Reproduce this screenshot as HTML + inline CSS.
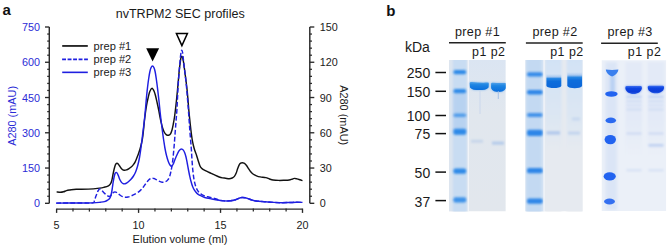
<!DOCTYPE html>
<html><head><meta charset="utf-8">
<style>
html,body{margin:0;padding:0;background:#fff;}
body{width:668px;height:248px;overflow:hidden;}
svg{display:block;font-family:"Liberation Sans",sans-serif;}
</style></head>
<body>
<svg width="668" height="248" viewBox="0 0 668 248">
<rect width="668" height="248" fill="#fff"/>
<path d="M49.3,27 V203.3" stroke="#2a2a2a" stroke-width="1.45" fill="none"/>
<path d="M45,203.30 H49.3" stroke="#2a2a2a" stroke-width="1.35"/>
<path d="M47.2,196.25 H49.3" stroke="#2a2a2a" stroke-width="1.25"/>
<path d="M47.2,189.20 H49.3" stroke="#2a2a2a" stroke-width="1.25"/>
<path d="M47.2,182.14 H49.3" stroke="#2a2a2a" stroke-width="1.25"/>
<path d="M47.2,175.09 H49.3" stroke="#2a2a2a" stroke-width="1.25"/>
<path d="M45,168.04 H49.3" stroke="#2a2a2a" stroke-width="1.35"/>
<path d="M47.2,160.99 H49.3" stroke="#2a2a2a" stroke-width="1.25"/>
<path d="M47.2,153.94 H49.3" stroke="#2a2a2a" stroke-width="1.25"/>
<path d="M47.2,146.88 H49.3" stroke="#2a2a2a" stroke-width="1.25"/>
<path d="M47.2,139.83 H49.3" stroke="#2a2a2a" stroke-width="1.25"/>
<path d="M45,132.78 H49.3" stroke="#2a2a2a" stroke-width="1.35"/>
<path d="M47.2,125.73 H49.3" stroke="#2a2a2a" stroke-width="1.25"/>
<path d="M47.2,118.68 H49.3" stroke="#2a2a2a" stroke-width="1.25"/>
<path d="M47.2,111.62 H49.3" stroke="#2a2a2a" stroke-width="1.25"/>
<path d="M47.2,104.57 H49.3" stroke="#2a2a2a" stroke-width="1.25"/>
<path d="M45,97.52 H49.3" stroke="#2a2a2a" stroke-width="1.35"/>
<path d="M47.2,90.47 H49.3" stroke="#2a2a2a" stroke-width="1.25"/>
<path d="M47.2,83.42 H49.3" stroke="#2a2a2a" stroke-width="1.25"/>
<path d="M47.2,76.36 H49.3" stroke="#2a2a2a" stroke-width="1.25"/>
<path d="M47.2,69.31 H49.3" stroke="#2a2a2a" stroke-width="1.25"/>
<path d="M45,62.26 H49.3" stroke="#2a2a2a" stroke-width="1.35"/>
<path d="M47.2,55.21 H49.3" stroke="#2a2a2a" stroke-width="1.25"/>
<path d="M47.2,48.16 H49.3" stroke="#2a2a2a" stroke-width="1.25"/>
<path d="M47.2,41.10 H49.3" stroke="#2a2a2a" stroke-width="1.25"/>
<path d="M47.2,34.05 H49.3" stroke="#2a2a2a" stroke-width="1.25"/>
<path d="M45,27.00 H49.3" stroke="#2a2a2a" stroke-width="1.35"/>
<path d="M309.8,27 V203.3" stroke="#2a2a2a" stroke-width="1.45" fill="none"/>
<path d="M309.8,203.30 H314.3" stroke="#2a2a2a" stroke-width="1.35"/>
<path d="M309.8,196.25 H312" stroke="#2a2a2a" stroke-width="1.25"/>
<path d="M309.8,189.20 H312" stroke="#2a2a2a" stroke-width="1.25"/>
<path d="M309.8,182.14 H312" stroke="#2a2a2a" stroke-width="1.25"/>
<path d="M309.8,175.09 H312" stroke="#2a2a2a" stroke-width="1.25"/>
<path d="M309.8,168.04 H314.3" stroke="#2a2a2a" stroke-width="1.35"/>
<path d="M309.8,160.99 H312" stroke="#2a2a2a" stroke-width="1.25"/>
<path d="M309.8,153.94 H312" stroke="#2a2a2a" stroke-width="1.25"/>
<path d="M309.8,146.88 H312" stroke="#2a2a2a" stroke-width="1.25"/>
<path d="M309.8,139.83 H312" stroke="#2a2a2a" stroke-width="1.25"/>
<path d="M309.8,132.78 H314.3" stroke="#2a2a2a" stroke-width="1.35"/>
<path d="M309.8,125.73 H312" stroke="#2a2a2a" stroke-width="1.25"/>
<path d="M309.8,118.68 H312" stroke="#2a2a2a" stroke-width="1.25"/>
<path d="M309.8,111.62 H312" stroke="#2a2a2a" stroke-width="1.25"/>
<path d="M309.8,104.57 H312" stroke="#2a2a2a" stroke-width="1.25"/>
<path d="M309.8,97.52 H314.3" stroke="#2a2a2a" stroke-width="1.35"/>
<path d="M309.8,90.47 H312" stroke="#2a2a2a" stroke-width="1.25"/>
<path d="M309.8,83.42 H312" stroke="#2a2a2a" stroke-width="1.25"/>
<path d="M309.8,76.36 H312" stroke="#2a2a2a" stroke-width="1.25"/>
<path d="M309.8,69.31 H312" stroke="#2a2a2a" stroke-width="1.25"/>
<path d="M309.8,62.26 H314.3" stroke="#2a2a2a" stroke-width="1.35"/>
<path d="M309.8,55.21 H312" stroke="#2a2a2a" stroke-width="1.25"/>
<path d="M309.8,48.16 H312" stroke="#2a2a2a" stroke-width="1.25"/>
<path d="M309.8,41.10 H312" stroke="#2a2a2a" stroke-width="1.25"/>
<path d="M309.8,34.05 H312" stroke="#2a2a2a" stroke-width="1.25"/>
<path d="M309.8,27.00 H314.3" stroke="#2a2a2a" stroke-width="1.35"/>
<path d="M56.6,209.1 H302.6" stroke="#2a2a2a" stroke-width="1.45" fill="none"/>
<path d="M56.60,208.6 V212.9" stroke="#2a2a2a" stroke-width="1.35"/>
<path d="M72.99,208.6 V211.6" stroke="#2a2a2a" stroke-width="1.25"/>
<path d="M89.39,208.6 V211.6" stroke="#2a2a2a" stroke-width="1.25"/>
<path d="M105.78,208.6 V211.6" stroke="#2a2a2a" stroke-width="1.25"/>
<path d="M122.17,208.6 V211.6" stroke="#2a2a2a" stroke-width="1.25"/>
<path d="M138.57,208.6 V212.9" stroke="#2a2a2a" stroke-width="1.35"/>
<path d="M154.96,208.6 V211.6" stroke="#2a2a2a" stroke-width="1.25"/>
<path d="M171.35,208.6 V211.6" stroke="#2a2a2a" stroke-width="1.25"/>
<path d="M187.75,208.6 V211.6" stroke="#2a2a2a" stroke-width="1.25"/>
<path d="M204.14,208.6 V211.6" stroke="#2a2a2a" stroke-width="1.25"/>
<path d="M220.53,208.6 V212.9" stroke="#2a2a2a" stroke-width="1.35"/>
<path d="M236.93,208.6 V211.6" stroke="#2a2a2a" stroke-width="1.25"/>
<path d="M253.32,208.6 V211.6" stroke="#2a2a2a" stroke-width="1.25"/>
<path d="M269.71,208.6 V211.6" stroke="#2a2a2a" stroke-width="1.25"/>
<path d="M286.11,208.6 V211.6" stroke="#2a2a2a" stroke-width="1.25"/>
<path d="M302.50,208.6 V212.9" stroke="#2a2a2a" stroke-width="1.35"/>
<text x="40" y="207.40" text-anchor="end" fill="#2b2bd6" font-size="10.8">0</text>
<text x="40" y="172.14" text-anchor="end" fill="#2b2bd6" font-size="10.8">150</text>
<text x="40" y="136.88" text-anchor="end" fill="#2b2bd6" font-size="10.8">300</text>
<text x="40" y="101.62" text-anchor="end" fill="#2b2bd6" font-size="10.8">450</text>
<text x="40" y="66.36" text-anchor="end" fill="#2b2bd6" font-size="10.8">600</text>
<text x="40" y="31.10" text-anchor="end" fill="#2b2bd6" font-size="10.8">750</text>
<text x="319.8" y="207.40" fill="#1a1a1a" font-size="10.8">0</text>
<text x="319.8" y="172.14" fill="#1a1a1a" font-size="10.8">30</text>
<text x="319.8" y="136.88" fill="#1a1a1a" font-size="10.8">60</text>
<text x="319.8" y="101.62" fill="#1a1a1a" font-size="10.8">90</text>
<text x="319.8" y="66.36" fill="#1a1a1a" font-size="10.8">120</text>
<text x="319.8" y="31.10" fill="#1a1a1a" font-size="10.8">150</text>
<text x="56.60" y="228.7" text-anchor="middle" fill="#1a1a1a" font-size="10.8">5</text>
<text x="138.57" y="228.7" text-anchor="middle" fill="#1a1a1a" font-size="10.8">10</text>
<text x="220.53" y="228.7" text-anchor="middle" fill="#1a1a1a" font-size="10.8">15</text>
<text x="302.50" y="228.7" text-anchor="middle" fill="#1a1a1a" font-size="10.8">20</text>
<text x="180" y="243.3" text-anchor="middle" fill="#1a1a1a" font-size="11.1">Elution volume (ml)</text>
<text transform="translate(16.3,115.9) rotate(-90)" text-anchor="middle" fill="#2b2bd6" font-size="10.9">A280 (mAU)</text>
<text transform="translate(339.7,115.2) rotate(90)" text-anchor="middle" fill="#1a1a1a" font-size="10.9">A280 (mAU)</text>
<text x="180.2" y="18.4" text-anchor="middle" fill="#1a1a1a" font-size="12.55">nvTRPM2 SEC profiles</text>
<text x="2.6" y="14.8" fill="#111" font-size="15" font-weight="bold">a</text>
<path d="M62.2,45.95 H87.8" stroke="#0a0a0a" stroke-width="1.65"/>
<path d="M62.1,59.35 H87.9" stroke="#1f1fe0" stroke-width="1.65" stroke-dasharray="3.9 1.6"/>
<path d="M62.2,72.35 H87.8" stroke="#1f1fe0" stroke-width="1.6"/>
<text x="93.6" y="49.8" fill="#1a1a1a" font-size="11.1">prep #1</text>
<text x="93.6" y="62.8" fill="#1a1a1a" font-size="11.1">prep #2</text>
<text x="93.6" y="75.8" fill="#1a1a1a" font-size="11.1">prep #3</text>
<path d="M146.2,48.2 L159.1,48.2 L152.6,61.6 Z" fill="#000"/>
<path d="M176.4,33.6 L187.4,33.6 L181.9,45.6 Z" fill="none" stroke="#000" stroke-width="1.5" stroke-linejoin="miter"/>
<path d="M56.60,191.90 C57.25,191.97 59.35,192.32 60.50,192.30 C61.65,192.28 62.50,192.08 63.50,191.80 C64.50,191.52 65.42,190.90 66.50,190.60 C67.58,190.30 68.38,190.22 70.00,190.00 C71.62,189.78 73.15,189.45 76.20,189.30 C79.25,189.15 84.42,189.30 88.30,189.10 C92.18,188.90 96.88,188.40 99.50,188.10 C102.12,187.80 102.52,187.68 104.00,187.30 C105.48,186.92 107.30,186.42 108.40,185.80 C109.50,185.18 110.03,184.48 110.60,183.60 C111.17,182.72 111.45,181.77 111.80,180.50 C112.15,179.23 112.40,177.50 112.70,176.00 C113.00,174.50 113.30,172.88 113.60,171.50 C113.90,170.12 114.17,168.88 114.50,167.70 C114.83,166.52 115.20,165.15 115.60,164.40 C116.00,163.65 116.47,163.27 116.90,163.20 C117.33,163.13 117.75,163.53 118.20,164.00 C118.65,164.47 119.00,165.17 119.60,166.00 C120.20,166.83 121.07,168.30 121.80,169.00 C122.53,169.70 123.22,170.05 124.00,170.20 C124.78,170.35 125.67,170.17 126.50,169.90 C127.33,169.63 128.17,169.12 129.00,168.60 C129.83,168.08 130.77,167.47 131.50,166.80 C132.23,166.13 132.78,165.43 133.40,164.60 C134.02,163.77 134.67,162.80 135.20,161.80 C135.73,160.80 136.10,159.82 136.60,158.60 C137.10,157.38 137.67,155.97 138.20,154.50 C138.73,153.03 139.30,151.47 139.80,149.80 C140.30,148.13 140.77,146.30 141.20,144.50 C141.63,142.70 142.03,141.25 142.40,139.00 C142.77,136.75 143.08,133.83 143.40,131.00 C143.72,128.17 143.97,125.00 144.30,122.00 C144.63,119.00 145.02,115.83 145.40,113.00 C145.78,110.17 146.13,107.58 146.60,105.00 C147.07,102.42 147.67,99.75 148.20,97.50 C148.73,95.25 149.17,93.03 149.80,91.50 C150.43,89.97 151.27,88.30 152.00,88.30 C152.73,88.30 153.58,90.13 154.20,91.50 C154.82,92.87 155.20,94.58 155.70,96.50 C156.20,98.42 156.70,100.75 157.20,103.00 C157.70,105.25 158.23,107.67 158.70,110.00 C159.17,112.33 159.57,114.83 160.00,117.00 C160.43,119.17 160.87,121.17 161.30,123.00 C161.73,124.83 162.12,126.50 162.60,128.00 C163.08,129.50 163.60,130.90 164.20,132.00 C164.80,133.10 165.48,134.05 166.20,134.60 C166.92,135.15 167.78,135.43 168.50,135.30 C169.22,135.17 169.92,134.68 170.50,133.80 C171.08,132.92 171.53,131.63 172.00,130.00 C172.47,128.37 172.88,126.17 173.30,124.00 C173.72,121.83 174.15,119.33 174.50,117.00 C174.85,114.67 175.07,112.83 175.40,110.00 C175.73,107.17 176.15,103.33 176.50,100.00 C176.85,96.67 177.18,93.33 177.50,90.00 C177.82,86.67 178.10,83.33 178.40,80.00 C178.70,76.67 178.98,73.00 179.30,70.00 C179.62,67.00 180.02,64.08 180.30,62.00 C180.58,59.92 180.75,58.47 181.00,57.50 C181.25,56.53 181.53,56.20 181.80,56.20 C182.07,56.20 182.32,56.53 182.60,57.50 C182.88,58.47 183.17,59.92 183.50,62.00 C183.83,64.08 184.20,67.00 184.60,70.00 C185.00,73.00 185.48,76.67 185.90,80.00 C186.32,83.33 186.75,86.67 187.10,90.00 C187.45,93.33 187.72,96.67 188.00,100.00 C188.28,103.33 188.50,106.67 188.80,110.00 C189.10,113.33 189.45,116.67 189.80,120.00 C190.15,123.33 190.52,126.83 190.90,130.00 C191.28,133.17 191.68,136.42 192.10,139.00 C192.52,141.58 192.95,143.58 193.40,145.50 C193.85,147.42 194.27,148.83 194.80,150.50 C195.33,152.17 196.02,153.75 196.60,155.50 C197.18,157.25 197.75,159.30 198.30,161.00 C198.85,162.70 199.35,164.50 199.90,165.70 C200.45,166.90 201.00,167.55 201.60,168.20 C202.20,168.85 202.60,169.07 203.50,169.60 C204.40,170.13 205.73,170.78 207.00,171.40 C208.27,172.02 209.77,172.67 211.10,173.30 C212.43,173.93 213.65,174.58 215.00,175.20 C216.35,175.82 217.95,176.55 219.20,177.00 C220.45,177.45 221.45,177.70 222.50,177.90 C223.55,178.10 224.38,178.07 225.50,178.20 C226.62,178.33 228.08,178.73 229.20,178.70 C230.32,178.67 231.33,178.38 232.20,178.00 C233.07,177.62 233.73,177.23 234.40,176.40 C235.07,175.57 235.67,174.27 236.20,173.00 C236.73,171.73 237.10,170.17 237.60,168.80 C238.10,167.43 238.68,165.75 239.20,164.80 C239.72,163.85 240.18,163.45 240.70,163.10 C241.22,162.75 241.75,162.68 242.30,162.70 C242.85,162.72 243.33,162.78 244.00,163.20 C244.67,163.62 245.55,164.30 246.30,165.20 C247.05,166.10 247.80,167.55 248.50,168.60 C249.20,169.65 249.75,170.60 250.50,171.50 C251.25,172.40 252.00,173.28 253.00,174.00 C254.00,174.72 255.30,175.32 256.50,175.80 C257.70,176.28 258.65,176.60 260.20,176.90 C261.75,177.20 264.25,177.25 265.80,177.60 C267.35,177.95 268.28,178.60 269.50,179.00 C270.72,179.40 271.57,179.77 273.10,180.00 C274.63,180.23 276.88,180.35 278.70,180.40 C280.52,180.45 282.25,180.37 284.00,180.30 C285.75,180.23 287.87,180.18 289.20,180.00 C290.53,179.82 291.15,179.47 292.00,179.20 C292.85,178.93 293.47,178.45 294.30,178.40 C295.13,178.35 296.05,178.67 297.00,178.90 C297.95,179.13 299.08,179.52 300.00,179.80 C300.92,180.08 302.08,180.47 302.50,180.60" fill="none" stroke="#121212" stroke-width="1.45" stroke-linejoin="round"/>
<path d="M56.20,203.10 C60.17,203.08 73.90,203.03 80.00,203.00 C86.10,202.97 90.38,203.40 92.80,202.90 C95.22,202.40 93.97,201.15 94.50,200.00 C95.03,198.85 95.48,197.37 96.00,196.00 C96.52,194.63 97.13,192.85 97.60,191.80 C98.07,190.75 98.45,190.18 98.80,189.70 C99.15,189.22 99.38,188.97 99.70,188.90 C100.02,188.83 100.32,189.00 100.70,189.30 C101.08,189.60 101.52,190.18 102.00,190.70 C102.48,191.22 103.02,191.80 103.60,192.40 C104.18,193.00 104.83,193.72 105.50,194.30 C106.17,194.88 106.97,195.55 107.60,195.90 C108.23,196.25 108.77,196.47 109.30,196.40 C109.83,196.33 110.30,195.98 110.80,195.50 C111.30,195.02 111.77,194.05 112.30,193.50 C112.83,192.95 113.42,192.43 114.00,192.20 C114.58,191.97 115.22,192.00 115.80,192.10 C116.38,192.20 116.82,192.32 117.50,192.80 C118.18,193.28 119.07,194.37 119.90,195.00 C120.73,195.63 121.65,196.23 122.50,196.60 C123.35,196.97 124.08,197.13 125.00,197.20 C125.92,197.27 127.00,197.20 128.00,197.00 C129.00,196.80 129.93,196.45 131.00,196.00 C132.07,195.55 133.12,195.00 134.40,194.30 C135.68,193.60 137.43,192.72 138.70,191.80 C139.97,190.88 141.03,189.87 142.00,188.80 C142.97,187.73 143.62,186.60 144.50,185.40 C145.38,184.20 146.45,182.65 147.30,181.60 C148.15,180.55 148.85,179.68 149.60,179.10 C150.35,178.52 151.07,178.20 151.80,178.10 C152.53,178.00 153.25,178.25 154.00,178.50 C154.75,178.75 155.47,179.15 156.30,179.60 C157.13,180.05 158.03,180.77 159.00,181.20 C159.97,181.63 161.05,182.10 162.10,182.20 C163.15,182.30 164.35,182.18 165.30,181.80 C166.25,181.42 167.08,180.78 167.80,179.90 C168.52,179.02 169.10,177.82 169.60,176.50 C170.10,175.18 170.43,173.58 170.80,172.00 C171.17,170.42 171.47,169.00 171.80,167.00 C172.13,165.00 172.50,162.50 172.80,160.00 C173.10,157.50 173.35,154.67 173.60,152.00 C173.85,149.33 174.08,146.67 174.30,144.00 C174.52,141.33 174.70,138.67 174.90,136.00 C175.10,133.33 175.28,130.83 175.50,128.00 C175.72,125.17 175.97,122.00 176.20,119.00 C176.43,116.00 176.70,113.17 176.90,110.00 C177.10,106.83 177.23,103.33 177.40,100.00 C177.57,96.67 177.72,93.33 177.90,90.00 C178.08,86.67 178.27,83.33 178.50,80.00 C178.73,76.67 179.02,73.40 179.30,70.00 C179.58,66.60 179.92,62.50 180.20,59.60 C180.48,56.70 180.73,54.18 181.00,52.60 C181.27,51.02 181.53,50.10 181.80,50.10 C182.07,50.10 182.33,51.02 182.60,52.60 C182.87,54.18 183.07,56.70 183.40,59.60 C183.73,62.50 184.20,66.60 184.60,70.00 C185.00,73.40 185.43,76.67 185.80,80.00 C186.17,83.33 186.50,86.67 186.80,90.00 C187.10,93.33 187.33,96.67 187.60,100.00 C187.87,103.33 188.15,106.67 188.40,110.00 C188.65,113.33 188.87,116.67 189.10,120.00 C189.33,123.33 189.55,126.67 189.80,130.00 C190.05,133.33 190.33,136.67 190.60,140.00 C190.87,143.33 191.17,146.67 191.40,150.00 C191.63,153.33 191.77,156.67 192.00,160.00 C192.23,163.33 192.45,166.67 192.80,170.00 C193.15,173.33 193.58,177.17 194.10,180.00 C194.62,182.83 195.22,185.10 195.90,187.00 C196.58,188.90 197.38,190.25 198.20,191.40 C199.02,192.55 199.72,193.13 200.80,193.90 C201.88,194.67 203.25,195.45 204.70,196.00 C206.15,196.55 207.73,196.75 209.50,197.20 C211.27,197.65 213.55,198.18 215.30,198.70 C217.05,199.22 218.55,199.93 220.00,200.30 C221.45,200.67 222.23,200.82 224.00,200.90 C225.77,200.98 228.68,200.98 230.60,200.80 C232.52,200.62 234.10,200.23 235.50,199.80 C236.90,199.37 237.92,198.58 239.00,198.20 C240.08,197.82 241.00,197.58 242.00,197.50 C243.00,197.42 243.98,197.52 245.00,197.70 C246.02,197.88 246.93,198.22 248.10,198.60 C249.27,198.98 250.67,199.60 252.00,200.00 C253.33,200.40 254.07,200.72 256.10,201.00 C258.13,201.28 261.23,201.47 264.20,201.70 C267.17,201.93 270.95,202.23 273.90,202.40 C276.85,202.57 279.22,202.68 281.90,202.70 C284.58,202.72 287.65,202.57 290.00,202.50 C292.35,202.43 293.92,202.32 296.00,202.30 C298.08,202.28 301.42,202.38 302.50,202.40" fill="none" stroke="#1f1fe0" stroke-width="1.45" stroke-dasharray="4.8 2.2"/>
<path d="M56.20,203.10 C60.17,203.08 73.82,203.03 80.00,203.00 C86.18,202.97 89.88,203.03 93.30,202.90 C96.72,202.77 98.65,202.42 100.50,202.20 C102.35,201.98 103.32,201.88 104.40,201.60 C105.48,201.32 106.17,200.97 107.00,200.50 C107.83,200.03 108.77,199.55 109.40,198.80 C110.03,198.05 110.42,197.13 110.80,196.00 C111.18,194.87 111.43,193.42 111.70,192.00 C111.97,190.58 112.15,189.17 112.40,187.50 C112.65,185.83 112.92,183.75 113.20,182.00 C113.48,180.25 113.80,178.40 114.10,177.00 C114.40,175.60 114.67,174.37 115.00,173.60 C115.33,172.83 115.72,172.43 116.10,172.40 C116.48,172.37 116.90,172.80 117.30,173.40 C117.70,174.00 118.08,174.98 118.50,176.00 C118.92,177.02 119.30,178.43 119.80,179.50 C120.30,180.57 120.90,181.68 121.50,182.40 C122.10,183.12 122.68,183.62 123.40,183.80 C124.12,183.98 124.97,183.83 125.80,183.50 C126.63,183.17 127.53,182.50 128.40,181.80 C129.27,181.10 130.15,180.27 131.00,179.30 C131.85,178.33 132.73,177.22 133.50,176.00 C134.27,174.78 134.97,173.50 135.60,172.00 C136.23,170.50 136.80,168.67 137.30,167.00 C137.80,165.33 138.22,163.67 138.60,162.00 C138.98,160.33 139.30,158.67 139.60,157.00 C139.90,155.33 140.13,153.83 140.40,152.00 C140.67,150.17 140.93,148.00 141.20,146.00 C141.47,144.00 141.73,142.17 142.00,140.00 C142.27,137.83 142.52,135.33 142.80,133.00 C143.08,130.67 143.42,128.33 143.70,126.00 C143.98,123.67 144.25,121.33 144.50,119.00 C144.75,116.67 144.97,114.50 145.20,112.00 C145.43,109.50 145.67,106.67 145.90,104.00 C146.13,101.33 146.30,99.00 146.60,96.00 C146.90,93.00 147.35,88.92 147.70,86.00 C148.05,83.08 148.35,80.83 148.70,78.50 C149.05,76.17 149.42,73.78 149.80,72.00 C150.18,70.22 150.55,68.80 151.00,67.80 C151.45,66.80 152.00,66.00 152.50,66.00 C153.00,66.00 153.55,66.80 154.00,67.80 C154.45,68.80 154.82,70.13 155.20,72.00 C155.58,73.87 155.95,76.58 156.30,79.00 C156.65,81.42 156.97,83.83 157.30,86.50 C157.63,89.17 157.98,92.25 158.30,95.00 C158.62,97.75 158.90,100.17 159.20,103.00 C159.50,105.83 159.80,109.17 160.10,112.00 C160.40,114.83 160.70,117.50 161.00,120.00 C161.30,122.50 161.60,124.67 161.90,127.00 C162.20,129.33 162.48,131.67 162.80,134.00 C163.12,136.33 163.43,138.58 163.80,141.00 C164.17,143.42 164.55,146.08 165.00,148.50 C165.45,150.92 165.95,153.33 166.50,155.50 C167.05,157.67 167.72,159.92 168.30,161.50 C168.88,163.08 169.45,164.22 170.00,165.00 C170.55,165.78 171.10,166.28 171.60,166.20 C172.10,166.12 172.47,165.53 173.00,164.50 C173.53,163.47 174.15,161.58 174.80,160.00 C175.45,158.42 176.23,156.47 176.90,155.00 C177.57,153.53 178.23,152.12 178.80,151.20 C179.37,150.28 179.82,149.85 180.30,149.50 C180.78,149.15 181.23,149.03 181.70,149.10 C182.17,149.17 182.62,149.33 183.10,149.90 C183.58,150.47 184.12,151.32 184.60,152.50 C185.08,153.68 185.55,155.17 186.00,157.00 C186.45,158.83 186.88,161.33 187.30,163.50 C187.72,165.67 188.12,168.00 188.50,170.00 C188.88,172.00 189.20,173.67 189.60,175.50 C190.00,177.33 190.40,179.17 190.90,181.00 C191.40,182.83 191.98,184.93 192.60,186.50 C193.22,188.07 193.87,189.25 194.60,190.40 C195.33,191.55 196.13,192.58 197.00,193.40 C197.87,194.22 198.52,194.62 199.80,195.30 C201.08,195.98 202.68,196.88 204.70,197.50 C206.72,198.12 209.48,198.53 211.90,199.00 C214.32,199.47 217.18,199.98 219.20,200.30 C221.22,200.62 222.10,200.82 224.00,200.90 C225.90,200.98 228.68,200.98 230.60,200.80 C232.52,200.62 234.10,200.23 235.50,199.80 C236.90,199.37 237.92,198.58 239.00,198.20 C240.08,197.82 241.00,197.58 242.00,197.50 C243.00,197.42 243.98,197.52 245.00,197.70 C246.02,197.88 246.93,198.22 248.10,198.60 C249.27,198.98 250.67,199.60 252.00,200.00 C253.33,200.40 254.07,200.72 256.10,201.00 C258.13,201.28 261.23,201.47 264.20,201.70 C267.17,201.93 270.95,202.23 273.90,202.40 C276.85,202.57 279.22,202.68 281.90,202.70 C284.58,202.72 287.65,202.57 290.00,202.50 C292.35,202.43 293.92,202.32 296.00,202.30 C298.08,202.28 301.42,202.38 302.50,202.40" fill="none" stroke="#1f1fe0" stroke-width="1.45" stroke-linejoin="round"/>
<defs><filter id="b05" x="-50%" y="-100%" width="200%" height="300%"><feGaussianBlur stdDeviation="0.5"/></filter><filter id="b07" x="-50%" y="-100%" width="200%" height="300%"><feGaussianBlur stdDeviation="0.7"/></filter><filter id="b1" x="-50%" y="-200%" width="200%" height="500%"><feGaussianBlur stdDeviation="1.0"/></filter><filter id="b2" x="-50%" y="-50%" width="200%" height="200%"><feGaussianBlur stdDeviation="1.6"/></filter><clipPath id="g1"><rect x="449" y="60" width="56.8" height="151.5"/></clipPath><clipPath id="g2"><rect x="525.3" y="60" width="57.4" height="151.4"/></clipPath><clipPath id="g3"><rect x="601.5" y="60.2" width="64.8" height="150.8"/></clipPath></defs>
<text x="386.3" y="15.9" fill="#111" font-size="15" font-weight="bold">b</text>
<text x="405" y="51.7" fill="#1a1a1a" font-size="14">kDa</text>
<text x="430.2" y="77.5" text-anchor="end" fill="#1a1a1a" font-size="14">250</text>
<path d="M435.4,72.5 H446" stroke="#111" stroke-width="1.5"/>
<text x="430.2" y="96.6" text-anchor="end" fill="#1a1a1a" font-size="14">150</text>
<path d="M435.4,91.3 H446" stroke="#111" stroke-width="1.5"/>
<text x="430.2" y="120.5" text-anchor="end" fill="#1a1a1a" font-size="14">100</text>
<path d="M435.4,115.5 H446" stroke="#111" stroke-width="1.5"/>
<text x="430.2" y="138.9" text-anchor="end" fill="#1a1a1a" font-size="14">75</text>
<path d="M435.4,133.6 H446" stroke="#111" stroke-width="1.5"/>
<text x="430.2" y="177.9" text-anchor="end" fill="#1a1a1a" font-size="14">50</text>
<path d="M435.4,172.1 H446" stroke="#111" stroke-width="1.5"/>
<text x="430.2" y="206.5" text-anchor="end" fill="#1a1a1a" font-size="14">37</text>
<path d="M435.4,200.6 H446" stroke="#111" stroke-width="1.5"/>
<text x="477.5" y="35.8" text-anchor="middle" fill="#1a1a1a" font-size="12.6" letter-spacing="0.35">prep #1</text>
<path d="M449,42.8 H505.8" stroke="#222" stroke-width="1.4"/>
<text x="555.0" y="35.8" text-anchor="middle" fill="#1a1a1a" font-size="12.6" letter-spacing="0.35">prep #2</text>
<path d="M525.9,43.0 H582.7" stroke="#222" stroke-width="1.4"/>
<text x="630.1" y="35.8" text-anchor="middle" fill="#1a1a1a" font-size="12.6" letter-spacing="0.35">prep #3</text>
<path d="M601.1,43.2 H657.8" stroke="#222" stroke-width="1.4"/>
<text x="505.5" y="55.9" text-anchor="end" fill="#1a1a1a" font-size="12.4" letter-spacing="0.5">p1 p2</text>
<text x="583.7" y="55.9" text-anchor="end" fill="#1a1a1a" font-size="12.4" letter-spacing="0.5">p1 p2</text>
<text x="661.3" y="55.9" text-anchor="end" fill="#1a1a1a" font-size="12.4" letter-spacing="0.5">p1 p2</text>
<g clip-path="url(#g1)">
<linearGradient id="lg1" x1="0" y1="0" x2="0" y2="1"><stop offset="0" stop-color="#dbe5f2"/><stop offset="0.35" stop-color="#e1e7ee"/><stop offset="1" stop-color="#e2e7ed"/></linearGradient>
<rect x="449" y="60" width="56.8" height="151.5" fill="url(#lg1)"/>
<rect x="449" y="60" width="19" height="151.5" fill="#dde5ef"/>
<rect x="452.8" y="58" width="14" height="156" fill="#c8dcf2" filter="url(#b1)"/>
<rect x="453.5" y="92" width="13" height="42" fill="#b0cef0" filter="url(#b2)" opacity="0.7"/>
<rect x="453.4" y="70.1" width="12.8" height="4.2" rx="2" fill="#2f8ae8" opacity="1.0" filter="url(#b1)"/>
<rect x="453.4" y="88.9" width="12.8" height="4.4" rx="2" fill="#2f8ae8" opacity="1.0" filter="url(#b1)"/>
<rect x="453.4" y="113.5" width="12.8" height="3.6" rx="2" fill="#2f8ae8" opacity="0.75" filter="url(#b1)"/>
<rect x="453.4" y="128.7" width="12.8" height="6.0" rx="2" fill="#2f8ae8" opacity="1.0" filter="url(#b1)"/>
<rect x="453.4" y="168.6" width="12.8" height="5.2" rx="2" fill="#2f8ae8" opacity="1.0" filter="url(#b1)"/>
<rect x="453.4" y="197.2" width="12.8" height="5.2" rx="2" fill="#2f8ae8" opacity="0.9" filter="url(#b1)"/>
<rect x="467.7" y="60" width="1.2" height="151.5" fill="#f3f5f9" filter="url(#b05)"/>
<linearGradient id="bg1" x1="0" y1="0" x2="0" y2="1"><stop offset="0" stop-color="#52a2ea"/><stop offset="0.35" stop-color="#1c84e2"/><stop offset="1" stop-color="#0a6ddc"/></linearGradient>
<path d="M469.7,83.0 C469.8,82.1 470.8,81.9 472,82.0 C477,82.6 482,82.8 487.5,82.6 C488.5,82.6 488.9,83.0 488.8,83.8 L488.6,87.4 C487,89.6 483.5,90.1 479.3,90.1 C475,90.1 471.5,89.6 470,87.4 Z" fill="#5aa2ea" filter="url(#b1)" opacity="0.7"/>
<path d="M469.7,83.0 C469.8,82.1 470.8,81.9 472,82.0 C477,82.6 482,82.8 487.5,82.6 C488.5,82.6 488.9,83.0 488.8,83.8 L488.6,87.4 C487,89.6 483.5,90.1 479.3,90.1 C475,90.1 471.5,89.6 470,87.4 Z" fill="url(#bg1)" filter="url(#b05)"/>
<path d="M491.1,83.6 C491.2,82.8 492,82.6 493,82.7 C497,83.2 501,83.2 505,83.0 C505.8,83 505.9,83.4 505.9,84 L505.9,88.2 C504.5,91 501.5,91.9 498.4,91.9 C495.3,91.9 492.3,91 491.1,88.2 Z" fill="#5aa2ea" filter="url(#b1)" opacity="0.7"/>
<path d="M491.1,83.6 C491.2,82.8 492,82.6 493,82.7 C497,83.2 501,83.2 505,83.0 C505.8,83 505.9,83.4 505.9,84 L505.9,88.2 C504.5,91 501.5,91.9 498.4,91.9 C495.3,91.9 492.3,91 491.1,88.2 Z" fill="url(#bg1)" filter="url(#b05)"/>
<rect x="479.6" y="90" width="0.8" height="24" fill="#c5d4ea" filter="url(#b05)"/>
<rect x="497.8" y="91" width="0.9" height="8" fill="#9fbbe6" filter="url(#b05)"/>
<rect x="471" y="139.8" width="12" height="2.8" fill="#c6d5ea" filter="url(#b1)"/>
<rect x="492" y="141.6" width="12" height="3.0" fill="#b4caea" filter="url(#b1)"/>
</g>
<linearGradient id="lg2" x1="0" y1="0" x2="0" y2="1"><stop offset="0" stop-color="#d2e2f5"/><stop offset="0.35" stop-color="#dbe6f3"/><stop offset="0.6" stop-color="#e6eaf0"/><stop offset="1" stop-color="#e6eaf0"/></linearGradient>
<g clip-path="url(#g2)">
<rect x="525.3" y="60" width="57.4" height="151.5" fill="#e6eaf0"/>
<rect x="525.3" y="60" width="18.4" height="151.5" fill="#d4e3f3"/>
<rect x="526.5" y="58" width="15" height="156" fill="#c3d9f2" filter="url(#b1)"/>
<rect x="545.2" y="58" width="16.4" height="156" fill="url(#lg2)" filter="url(#b1)"/>
<rect x="566.7" y="58" width="16.4" height="156" fill="url(#lg2)" filter="url(#b1)"/>
<rect x="527" y="72.2" width="15.8" height="4.4" rx="2" fill="#2f86e8" opacity="0.95" filter="url(#b1)"/>
<rect x="527" y="90.1" width="15.8" height="4.4" rx="2" fill="#2f86e8" opacity="1.0" filter="url(#b1)"/>
<rect x="527" y="113.0" width="15.8" height="4.0" rx="2" fill="#2f86e8" opacity="0.85" filter="url(#b1)"/>
<rect x="527" y="129.8" width="15.8" height="6.2" rx="2" fill="#2f86e8" opacity="1.0" filter="url(#b1)"/>
<rect x="527" y="167.9" width="15.8" height="5.4" rx="2" fill="#2f86e8" opacity="1.0" filter="url(#b1)"/>
<rect x="527" y="198.6" width="15.8" height="5.2" rx="2" fill="#2f86e8" opacity="1.0" filter="url(#b1)"/>
<rect x="543.4" y="60" width="1.3" height="151.5" fill="#f2f5fa" filter="url(#b05)"/>
<linearGradient id="bg2" x1="0" y1="0" x2="0" y2="1"><stop offset="0" stop-color="#9cc2ee" stop-opacity="0"/><stop offset="0.18" stop-color="#8ab6ec" stop-opacity="0.55"/><stop offset="0.32" stop-color="#2a88e4"/><stop offset="0.5" stop-color="#0c6edc"/><stop offset="1" stop-color="#0a66d8"/></linearGradient>
<path d="M546.4,74 L561.3,74 L561.3,86.0 C560,88.7 548,88.7 546.4,86.0 Z" fill="url(#bg2)" filter="url(#b07)"/>
<path d="M567.3,72 L582.1,72 L582.1,86.0 C580.5,88.9 569,88.9 567.3,86.0 Z" fill="url(#bg2)" filter="url(#b07)"/>
<rect x="546.5" y="131.2" width="13.5" height="3.4" fill="#b2c9ec" filter="url(#b1)"/>
<rect x="568" y="131.6" width="12" height="3.0" fill="#c2d4ee" filter="url(#b1)"/>
<rect x="572" y="117.5" width="8" height="3.0" fill="#c8d8f0" filter="url(#b1)"/>
</g>
<g clip-path="url(#g3)">
<rect x="601.5" y="60" width="64.8" height="151.2" fill="#ebf0f8"/>
<linearGradient id="lg3" x1="0" y1="0" x2="0" y2="1"><stop offset="0" stop-color="#e3eaf7"/><stop offset="0.6" stop-color="#e3eaf7"/><stop offset="1" stop-color="#ebf0f8"/></linearGradient>
<rect x="625.5" y="62" width="16.5" height="95" fill="url(#lg3)" filter="url(#b1)"/>
<rect x="647.8" y="62" width="16.5" height="95" fill="url(#lg3)" filter="url(#b1)"/>
<rect x="605.5" y="62" width="11.5" height="148" fill="#dbe5f6" filter="url(#b2)"/>
<rect x="610.3" y="72" width="4.4" height="22" fill="#b9d0f3" filter="url(#b1)"/>
<path d="M605.8,69.6 C610,70.2 614,70.2 618.4,69.6 C618,73 615,75.6 612.1,76.6 C609.2,75.6 606.2,73 605.8,69.6 Z" fill="#3a80ee" filter="url(#b05)"/>
<ellipse cx="611.4" cy="94.0" rx="6.2" ry="2.7" fill="#2163f0" opacity="1.0" filter="url(#b05)"/>
<ellipse cx="610.8" cy="120.4" rx="5.3" ry="2.8" fill="#2163f0" opacity="0.95" filter="url(#b05)"/>
<ellipse cx="610.3" cy="139.6" rx="5.7" ry="4.7" fill="#2163f0" opacity="1.0" filter="url(#b05)"/>
<ellipse cx="609.7" cy="176.4" rx="6.1" ry="4.1" fill="#2163f0" opacity="1.0" filter="url(#b05)"/>
<ellipse cx="609.5" cy="201.5" rx="5.5" ry="2.9" fill="#2163f0" opacity="0.9" filter="url(#b05)"/>
<linearGradient id="bg3" x1="0" y1="0" x2="0" y2="1"><stop offset="0" stop-color="#3f6ff0"/><stop offset="0.3" stop-color="#0f45e2"/><stop offset="0.75" stop-color="#0b3cd8"/><stop offset="1" stop-color="#2a5ce6"/></linearGradient>
<path d="M625.4,87.0 C625.5,86.1 626.3,85.9 627.5,85.9 L639.6,85.9 C640.9,85.9 641.7,86.1 641.8,87.0 L641.8,88.2 C641.6,91.6 637.5,94.0 633.5,94.0 C629.5,94.0 625.6,91.6 625.4,88.2 Z" fill="#4a78ec" filter="url(#b1)" opacity="0.7"/>
<path d="M625.4,87.0 C625.5,86.1 626.3,85.9 627.5,85.9 L639.6,85.9 C640.9,85.9 641.7,86.1 641.8,87.0 L641.8,88.2 C641.6,91.6 637.5,94.0 633.5,94.0 C629.5,94.0 625.6,91.6 625.4,88.2 Z" fill="url(#bg3)" filter="url(#b05)"/>
<path d="M647.8,86.8 C647.9,85.9 648.7,85.7 649.9,85.7 L661.9,85.7 C663.2,85.7 663.9,85.9 664,86.8 L664,87.9 C663.8,91.0 660,93.2 655.9,93.2 C651.8,93.2 648,91.0 647.8,87.9 Z" fill="#4a78ec" filter="url(#b1)" opacity="0.7"/>
<path d="M647.8,86.8 C647.9,85.9 648.7,85.7 649.9,85.7 L661.9,85.7 C663.2,85.7 663.9,85.9 664,86.8 L664,87.9 C663.8,91.0 660,93.2 655.9,93.2 C651.8,93.2 648,91.0 647.8,87.9 Z" fill="url(#bg3)" filter="url(#b05)"/>
<rect x="626.5" y="95.6" width="15" height="2.4" fill="#c4d6f4" filter="url(#b1)"/>
<rect x="648.5" y="95.6" width="15" height="2.4" fill="#c4d6f4" filter="url(#b1)"/>
<rect x="626.5" y="100.0" width="15" height="2.4" fill="#d3dff4" filter="url(#b1)"/>
<rect x="648.5" y="100.0" width="15" height="2.4" fill="#d3dff4" filter="url(#b1)"/>
<rect x="626.5" y="104.1" width="15" height="2.4" fill="#d8e2f5" filter="url(#b1)"/>
<rect x="648.5" y="104.1" width="15" height="2.4" fill="#d8e2f5" filter="url(#b1)"/>
<rect x="626.5" y="108.3" width="15" height="2.4" fill="#d3dff4" filter="url(#b1)"/>
<rect x="648.5" y="108.3" width="15" height="2.4" fill="#d3dff4" filter="url(#b1)"/>
<rect x="626.5" y="132.3" width="15" height="2.4" fill="#d0dcf3" filter="url(#b1)"/>
<rect x="648.5" y="132.3" width="15" height="2.4" fill="#d0dcf3" filter="url(#b1)"/>
<rect x="626.5" y="169.0" width="15" height="2.4" fill="#d8e2f4" filter="url(#b1)"/>
<rect x="648.5" y="169.0" width="15" height="2.4" fill="#d8e2f4" filter="url(#b1)"/>
<rect x="648.5" y="144" width="15" height="2.6" fill="#bfd1f2" filter="url(#b1)"/>
</g>
</svg>
</body></html>
